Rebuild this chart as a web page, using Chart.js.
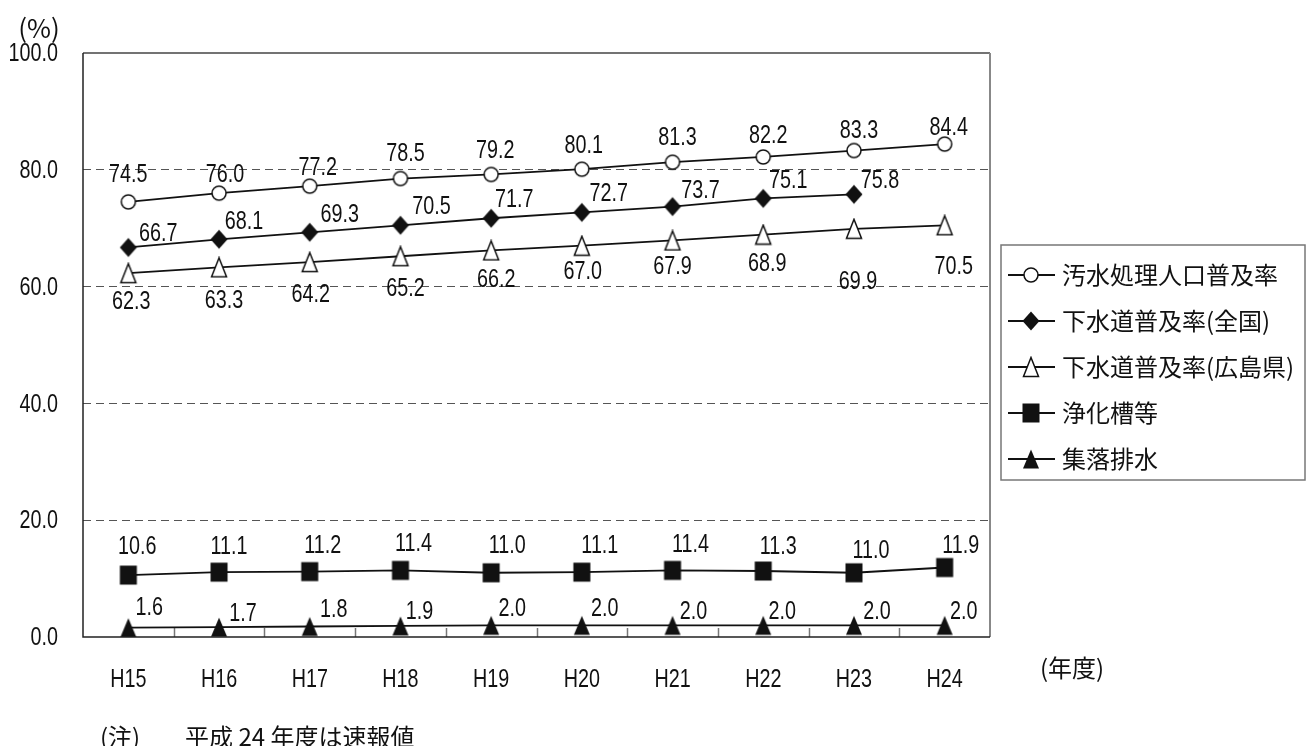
<!DOCTYPE html>
<html>
<head>
<meta charset="utf-8">
<script src="https://cdn.jsdelivr.net/npm/chart.js@4.4.1/dist/chart.umd.min.js"></script>
<style>
    html, body { margin: 0; padding: 0; background: #fff; }
    #wrap { width: 1308px; height: 746px; position: relative; }
</style>
</head>
<body>
<div id="wrap"><canvas id="sewageChart"></canvas></div>
<script>
// Fiscal years (Heisei)
const years = ['H15', 'H16', 'H17', 'H18', 'H19', 'H20', 'H21', 'H22', 'H23', 'H24'];

// Series values (%)
const wastewaterRate = [74.5, 76.0, 77.2, 78.5, 79.2, 80.1, 81.3, 82.2, 83.3, 84.4];
const sewerNational  = [66.7, 68.1, 69.3, 70.5, 71.7, 72.7, 73.7, 75.1, 75.8, null];
const sewerHiroshima = [62.3, 63.3, 64.2, 65.2, 66.2, 67.0, 67.9, 68.9, 69.9, 70.5];
const septicTanks    = [10.6, 11.1, 11.2, 11.4, 11.0, 11.1, 11.4, 11.3, 11.0, 11.9];
const ruralDrainage  = [1.6, 1.7, 1.8, 1.9, 2.0, 2.0, 2.0, 2.0, 2.0, 2.0];

const seriesNames = ['汚水処理人口普及率', '下水道普及率(全国)', '下水道普及率(広島県)', '浄化槽等', '集落排水'];

// Y axis ticks
const yTicks = [0, 20, 40, 60, 80, 100];

// No narrow font installed: squeeze Liberation Sans horizontally instead
const NUM_FONT = '26px "Liberation Sans", Arial, sans-serif';
const SQUEEZE = 0.76;
const JP_FONT = '"Noto Sans CJK JP", "Noto Sans CJK SC", sans-serif';
const INK = '#111';

// Label offsets relative to each point (px) — hand placed in the original
const labelDx = [
    [0, 6, 8, 5, 4, 2, 5, 5, 5, 4],
    [30, 25, 30, 31, 23, 27, 28, 25, 26, 0],
    [3, 5, 1, 5, 5, 1, 0, 4, 4, 9],
    [9, 10, 13, 13, 16, 18, 18, 15, 17, 16],
    [21, 24, 24, 19, 21, 23, 21, 19, 23, 19]
];
const labelDy = [
    [-28, -19, -19, -26, -25, -24, -25, -22, -21, -17],
    [-15, -18, -18, -19, -19, -20, -17, -19, -14, 0],
    [28, 33, 32, 32, 28, 25, 25, 28, 52, 41],
    [-29, -26, -27, -28, -28, -27, -27, -25, -23, -23],
    [-21, -14, -18, -15, -17, -17, -14, -14, -14, -14]
];

function drawCondensed(ctx, text, x, y, align) {
    ctx.save();
    ctx.translate(x, y);
    ctx.scale(SQUEEZE, 1);
    ctx.font = NUM_FONT;
    ctx.textAlign = align;
    ctx.textBaseline = 'middle';
    ctx.fillText(text, 0, 0);
    ctx.restore();
}

// Build marker images (canvas) so shapes match the original
function makeMarker(kind) {
    const c = document.createElement('canvas');
    c.width = 20;
    c.height = 22;
    const g = c.getContext('2d');
    g.lineWidth = 1.5;
    g.strokeStyle = INK;
    g.beginPath();
    if (kind === 'circle') {
        g.arc(10, 11, 7, 0, Math.PI * 2);
        g.fillStyle = '#fff';
        g.fill();
        g.stroke();
    } else if (kind === 'diamond') {
        g.moveTo(10, 1.5); g.lineTo(18.5, 11); g.lineTo(10, 20.5); g.lineTo(1.5, 11);
        g.closePath();
        g.fillStyle = INK;
        g.fill();
    } else if (kind === 'openTriangle') {
        g.moveTo(10, 1.5); g.lineTo(17.5, 20.5); g.lineTo(2.5, 20.5);
        g.closePath();
        g.fillStyle = '#fff';
        g.fill();
        g.stroke();
    } else if (kind === 'square') {
        g.rect(1.5, 1.5, 17, 19);
        g.fillStyle = INK;
        g.fill();
    } else {
        g.moveTo(10, 1.5); g.lineTo(18, 20.5); g.lineTo(2, 20.5);
        g.closePath();
        g.fillStyle = INK;
        g.fill();
    }
    return c;
}

const markers = [
    makeMarker('circle'),
    makeMarker('diamond'),
    makeMarker('openTriangle'),
    makeMarker('square'),
    makeMarker('filledTriangle')
];
const seriesData = [wastewaterRate, sewerNational, sewerHiroshima, septicTanks, ruralDrainage];

// Plot frame + inner x tick marks + condensed axis labels
const framePlugin = {
    id: 'frame',
    beforeDatasetsDraw(chart) {
        const { ctx, chartArea: a, scales: { x, y } } = chart;
        ctx.save();
        // small tick marks between categories, pointing up
        ctx.strokeStyle = '#777';
        ctx.lineWidth = 1.5;
        for (let i = 0; i < years.length - 1; i++) {
            const px = Math.round((x.getPixelForValue(i) + x.getPixelForValue(i + 1)) / 2) + 0.5;
            ctx.beginPath();
            ctx.moveTo(px, a.bottom);
            ctx.lineTo(px, a.bottom - 9);
            ctx.stroke();
        }
        // frame
        ctx.lineWidth = 1.5;
        ctx.strokeStyle = '#444';
        ctx.beginPath();
        ctx.moveTo(a.left, a.top); ctx.lineTo(a.right, a.top);
        ctx.stroke();
        ctx.strokeStyle = '#888';
        ctx.lineWidth = 2;
        ctx.beginPath();
        ctx.moveTo(a.right, a.top); ctx.lineTo(a.right, a.bottom);
        ctx.stroke();
        ctx.strokeStyle = '#222';
        ctx.lineWidth = 1.5;
        ctx.beginPath();
        ctx.moveTo(a.left, a.top); ctx.lineTo(a.left, a.bottom); ctx.lineTo(a.right, a.bottom);
        ctx.stroke();

        // axis labels, from the scales' own positions
        ctx.fillStyle = INK;
        y.ticks.forEach(t => {
            drawCondensed(ctx, t.value.toFixed(1), a.left - 25, y.getPixelForValue(t.value) + 1, 'right');
        });
        years.forEach((lbl, i) => {
            drawCondensed(ctx, lbl, x.getPixelForValue(i), a.bottom + 43, 'center');
        });
        ctx.restore();
    }
};

// Value labels next to each point
const valueLabelPlugin = {
    id: 'valueLabels',
    afterDatasetsDraw(chart) {
        const { ctx } = chart;
        ctx.save();
        ctx.fillStyle = INK;
        chart.data.datasets.forEach((ds, di) => {
            const meta = chart.getDatasetMeta(di);
            meta.data.forEach((pt, i) => {
                const v = ds.data[i];
                if (v === null || v === undefined) return;
                drawCondensed(ctx, v.toFixed(1), pt.x + labelDx[di][i], pt.y + labelDy[di][i] + 1, 'center');
            });
        });
        ctx.restore();
    }
};

// Boxed legend on the right, plus unit/footnote texts
const legendPlugin = {
    id: 'boxLegend',
    afterDraw(chart) {
        const { ctx } = chart;
        ctx.save();
        const box = { x: 1001, y: 245, w: 304, h: 235 };
        ctx.strokeStyle = '#777';
        ctx.lineWidth = 1.5;
        ctx.strokeRect(box.x, box.y, box.w, box.h);

        ctx.font = '24px ' + JP_FONT;
        ctx.fillStyle = INK;
        ctx.textBaseline = 'middle';
        ctx.textAlign = 'left';
        chart.data.datasets.forEach((ds, i) => {
            const cy = 275 + i * 46;
            ctx.strokeStyle = INK;
            ctx.lineWidth = 1.8;
            ctx.beginPath();
            ctx.moveTo(1008, cy);
            ctx.lineTo(1055, cy);
            ctx.stroke();
            const m = ds.pointStyle;
            ctx.drawImage(m, 1031 - m.width / 2, cy - m.height / 2);
            ctx.fillText(ds.label, 1062, cy);
        });

        // unit / axis title / note
        ctx.textAlign = 'center';
        ctx.font = '26px ' + JP_FONT;
        ctx.fillText('(%)', 39, 28);
        ctx.font = '24px ' + JP_FONT;
        ctx.fillText('(年度)', 1072, 668);
        ctx.textAlign = 'left';
        ctx.fillText('(注)', 100, 737);
        ctx.fillText('平成 24 年度は速報値', 185, 737);
        ctx.restore();
    }
};

const datasets = seriesNames.map((name, i) => ({
    label: name,
    data: seriesData[i],
    borderColor: INK,
    borderWidth: 1.8,
    pointStyle: markers[i],
    pointRadius: 8,
    pointHoverRadius: 8,
    tension: 0,
    fill: false,
    spanGaps: false
}));

new Chart(document.getElementById('sewageChart'), {
    type: 'line',
    data: { labels: years, datasets: datasets },
    options: {
        responsive: true,
        maintainAspectRatio: false,
        animation: false,
        layout: { padding: { top: 53, right: 318, bottom: 0, left: 0 } },
        plugins: {
            legend: { display: false },
            tooltip: { enabled: false }
        },
        scales: {
            x: {
                offset: true,
                grid: { display: false },
                border: { display: false },
                ticks: { display: false },
                afterFit: scale => { scale.height = 109; }
            },
            y: {
                min: 0,
                max: 100,
                afterBuildTicks: scale => { scale.ticks = yTicks.map(v => ({ value: v })); },
                grid: {
                    drawTicks: false,
                    lineWidth: 1,
                    color: c => (c.tick && (c.tick.value === 0 || c.tick.value === 100)) ? 'rgba(0,0,0,0)' : '#555'
                },
                border: { display: false, dash: [8, 5] },
                ticks: { display: false },
                afterFit: scale => { scale.width = 83; }
            }
        }
    },
    plugins: [framePlugin, valueLabelPlugin, legendPlugin]
});
</script>
</body>
</html>
